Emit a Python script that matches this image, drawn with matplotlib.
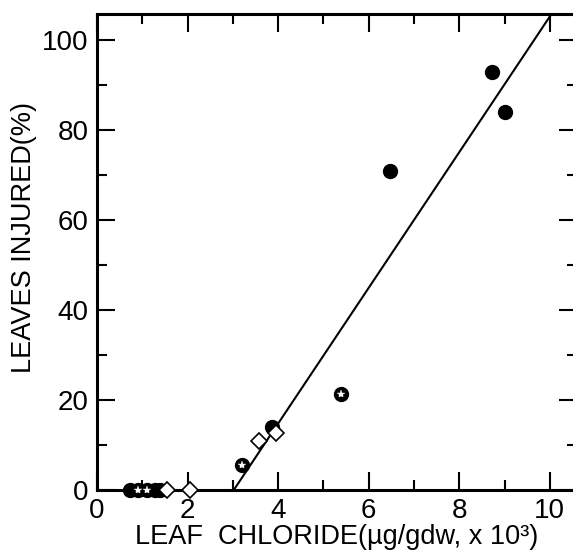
import numpy as np
import matplotlib
matplotlib.use('Agg')
import matplotlib.pyplot as plt
from matplotlib.ticker import MultipleLocator

plt.rcParams['font.family'] = ['Liberation Sans', 'DejaVu Sans']

# filled circles
fill_x = [0.72, 1.28, 1.40, 3.86, 6.47, 8.72, 9.0]
fill_y = [0, 0, 0, 14, 71, 93, 84]
# circles with a white star
star_x = [0.90, 1.10, 3.20, 5.38]
star_y = [0, 0, 5.5, 21.3]
# open diamonds
diam_x = [1.55, 2.05, 3.58, 3.95]
diam_y = [0, 0, 11, 12.7]
# fitted line end points
fit_x = [3.02, 10.05]
fit_y = [0, 106]

fig = plt.figure(figsize=(5.73, 5.52), dpi=100)
# right spine sits just past the picture edge, as in the original
ax = fig.add_axes([97/573, 62/552, 480/573, 476/552])
ax.set_xlim(0, 10.6)
ax.set_ylim(0, 105.8)

ax.plot(fit_x, fit_y, color='black', lw=1.5, zorder=2)

ax.plot(fill_x, fill_y, 'o', ms=10, color='black', mec='black', clip_on=False, zorder=3)
ax.plot(star_x, star_y, 'o', ms=10, color='black', mec='black', clip_on=False, zorder=3)
ax.plot(star_x, star_y, '*', ms=6, color='white', mec='white', mew=0.3, clip_on=False, zorder=4)
ax.plot(diam_x, diam_y, 'D', ms=8, mfc='white', mec='black', mew=1.2, clip_on=False, zorder=3)

for s in ax.spines.values():
    s.set_linewidth(2.2)

ax.xaxis.set_major_locator(MultipleLocator(2))
ax.xaxis.set_minor_locator(MultipleLocator(1))
ax.yaxis.set_major_locator(MultipleLocator(20))
ax.yaxis.set_minor_locator(MultipleLocator(10))
ax.tick_params(which='both', direction='in', top=True, right=True, width=1.5, labelsize=20, pad=6)
ax.tick_params(which='major', length=13)
ax.tick_params(which='minor', length=7)

ax.set_xlabel('LEAF  CHLORIDE(\u00b5g/gdw, x 10\u00b3)', fontsize=19.5)
ax.set_ylabel('LEAVES INJURED(%)', fontsize=19.5)
ax.xaxis.set_label_coords(0.5, -0.072)
ax.yaxis.set_label_coords(-0.125, 0.53)

fig.savefig('out.png', dpi=100)
